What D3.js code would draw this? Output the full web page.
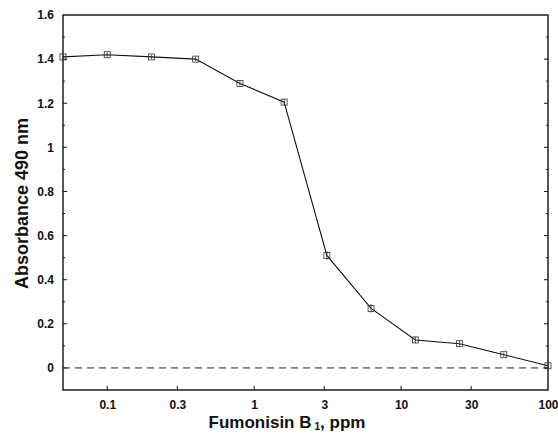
<!DOCTYPE html>
<html><head><meta charset="utf-8">
<script src="https://cdn.jsdelivr.net/npm/d3@7"></script>
<style>body{margin:0;background:#fff}svg{display:block}text{font-family:"Liberation Sans",Arial,sans-serif;fill:#111}</style>
</head><body><svg id="c" width="558" height="435"></svg>
<script>
const concentrations=[0.05,0.1,0.2,0.4,0.8,1.6,3.125,6.25,12.5,25,50,100];
const absorbance=[1.41,1.42,1.41,1.40,1.29,1.205,0.51,0.27,0.127,0.11,0.06,0.01];
const errors=[0.01,0.01,0.01,0.01,0.015,0.015,0.02,0.02,0.015,0.015,0.01,0.01];
const xTicks=[0.1,0.3,1,3,10,30,100];
const xTickLabels=["0.1","0.3","1","3","10","30","100"];
const yTicks=[0,0.2,0.4,0.6,0.8,1,1.2,1.4,1.6];
const yTickLabels=["0","0.2","0.4","0.6","0.8","1","1.2","1.4","1.6"];

const svg=d3.select("#c");
const L=63,R=548,T=15,B=390;
const x=d3.scaleLog().domain([0.05,100]).range([L,R]);
const y=d3.scaleLinear().domain([-0.1,1.6]).range([B,T]);

// frame
svg.append("rect").attr("x",L).attr("y",T).attr("width",R-L).attr("height",B-T)
  .attr("fill","none").attr("stroke","#111").attr("stroke-width",1.4);

// x axis
const xa=d3.axisBottom(x).tickValues(xTicks).tickSize(0).tickPadding(10)
  .tickFormat((d,i)=>xTickLabels[i]);
const gx=svg.append("g").attr("transform",`translate(0,${B})`).call(xa);
gx.select(".domain").remove();
gx.selectAll("text").attr("font-size",12).attr("font-weight","bold").attr("fill","#111");
svg.append("g").selectAll("line").data(xTicks.filter(d=>d<100)).join("line")
  .attr("x1",d=>x(d)).attr("x2",d=>x(d)).attr("y1",B).attr("y2",B-4)
  .attr("stroke","#111").attr("stroke-width",1);

// y axis
const ya=d3.axisLeft(y).tickValues(yTicks).tickSize(0).tickPadding(9)
  .tickFormat((d,i)=>yTickLabels[i]);
const gy=svg.append("g").attr("transform",`translate(${L},0)`).call(ya);
gy.select(".domain").remove();
gy.selectAll("text").attr("font-size",12).attr("font-weight","bold").attr("fill","#111");
const minorY=d3.range(0,16).map(i=>i/10);
svg.append("g").selectAll("line").data(minorY).join("line")
  .attr("x1",L).attr("x2",d=>L+(Math.round(d*10)%2===0?4:2)).attr("y1",d=>y(d)).attr("y2",d=>y(d))
  .attr("stroke","#111").attr("stroke-width",1);
svg.append("g").selectAll("line").data(minorY).join("line")
  .attr("x1",R).attr("x2",d=>R-(Math.round(d*10)%2===0?4:2)).attr("y1",d=>y(d)).attr("y2",d=>y(d))
  .attr("stroke","#111").attr("stroke-width",1);

// zero line
svg.append("line").attr("x1",L).attr("x2",R).attr("y1",y(0)).attr("y2",y(0))
  .attr("stroke","#222").attr("stroke-width",1).attr("stroke-dasharray","7,5");

// data line
const pts=concentrations.map((c,i)=>[c,absorbance[i]]);
svg.append("path").datum(pts)
  .attr("d",d3.line().x(d=>x(d[0])).y(d=>y(d[1])))
  .attr("fill","none").attr("stroke","#111").attr("stroke-width",1.1);

// error bars
svg.append("g").selectAll("line").data(pts).join("line")
  .attr("x1",d=>x(d[0])).attr("x2",d=>x(d[0]))
  .attr("y1",(d,i)=>y(d[1]+errors[i])).attr("y2",(d,i)=>y(d[1]-errors[i]))
  .attr("stroke","#333").attr("stroke-width",0.8);
// markers
svg.append("g").selectAll("rect").data(pts).join("rect")
  .attr("x",d=>x(d[0])-3).attr("y",d=>y(d[1])-3).attr("width",6).attr("height",6)
  .attr("fill","none").attr("stroke","#333").attr("stroke-width",0.8);

// titles
const xt=svg.append("text").attr("x",287).attr("y",428).attr("text-anchor","middle")
  .attr("font-size",17).attr("font-weight","bold");
xt.append("tspan").text("Fumonisin B");
xt.append("tspan").attr("font-size",10).attr("dy",2).attr("dx",3).text("1");
xt.append("tspan").attr("dy",-2).text(",  ppm");

svg.append("text").attr("transform",`translate(28,${(T+B)/2+1}) rotate(-90)`)
  .attr("text-anchor","middle").attr("font-size",18).attr("font-weight","bold")
  .text("Absorbance 490 nm");
</script></body></html>
